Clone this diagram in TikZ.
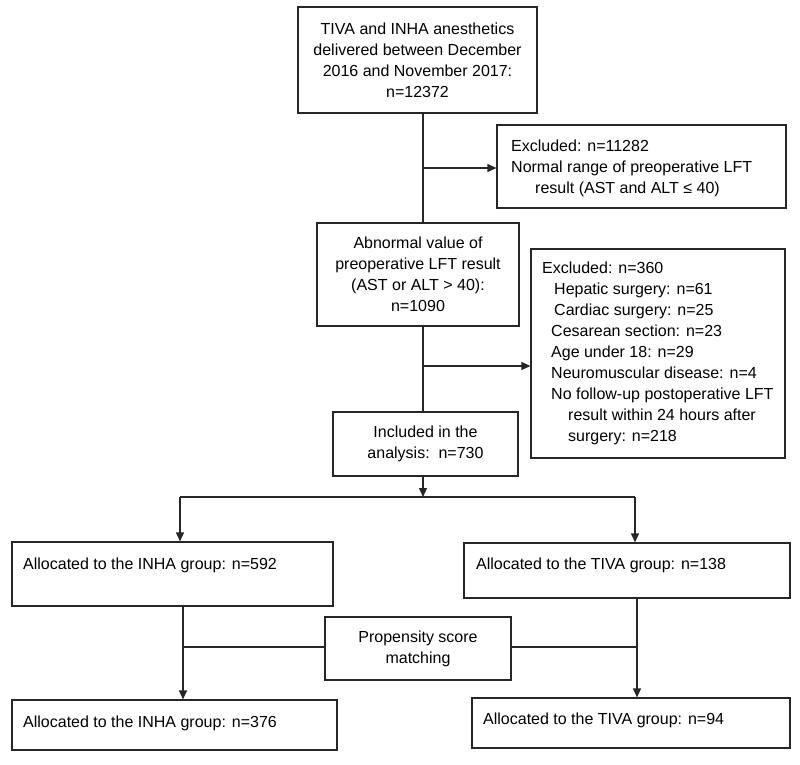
\documentclass[tikz,border=0pt]{standalone}
\usepackage{fontspec}
\setmainfont{Liberation Sans}
\usetikzlibrary{arrows.meta}
\begin{document}
\begin{tikzpicture}[x=1pt,y=-1pt,
  box/.style={draw=black!85, line width=1.2pt, rectangle, inner sep=0pt,
    font=\fontsize{16}{21}\selectfont, align=center},
  txt/.style={inner sep=0pt, font=\fontsize{16}{21}\selectfont, align=left},
  conn/.style={draw=black!85, line width=1.2pt},
  arr/.style={conn, -{Triangle[length=9pt,width=8pt]}}]
\useasboundingbox (0,0) rectangle (800,764);
% boxes
\node[box, minimum width=239pt, minimum height=106pt] (top) at (417.5,60)
  {TIVA and INHA anesthetics\\delivered between December\\2016 and November 2017:\\n=12372};
\node[box, minimum width=289pt, minimum height=83pt] (ex1) at (641.5,166.5) {};
\node[txt, anchor=west] (ex1t) at (511,168.5)
  {Excluded: n=11282\\Normal range of preoperative LFT\\\hspace*{24pt}result (AST and ALT ≤ 40)};
\node[box, minimum width=202pt, minimum height=103pt] (abn) at (418,274.5)
  {Abnormal value of\\preoperative LFT result\\(AST or ALT > 40):\\n=1090};
\node[box, minimum width=254pt, minimum height=209pt] (ex2) at (658,353.5) {};
\node[txt, anchor=west] (ex2t) at (542,353)
  {Excluded: n=360\\
   \hspace*{12pt}Hepatic surgery: n=61\\
   \hspace*{12pt}Cardiac surgery: n=25\\
   \hspace*{9pt}Cesarean section: n=23\\
   \hspace*{9pt}Age under 18: n=29\\
   \hspace*{9pt}Neuromuscular disease: n=4\\
   \hspace*{9pt}No follow-up postoperative LFT\\
   \hspace*{26pt}result within 24 hours after\\
   \hspace*{26pt}surgery: n=218};
\node[box, minimum width=185pt, minimum height=64pt] (inc) at (425.5,444)
  {Included in the\\analysis:\ \ n=730};
\node[box, minimum width=321pt, minimum height=64pt] (inha1) at (172.5,574) {};
\node[txt, anchor=base west] (inha1t) at (23,569) {Allocated to the INHA group: n=592};
\node[box, minimum width=326pt, minimum height=55pt] (tiva1) at (627,570.5) {};
\node[txt, anchor=base west] (tiva1t) at (476,569) {Allocated to the TIVA group: n=138};
\node[box, minimum width=186pt, minimum height=63pt] (prop) at (418,648.5)
  {Propensity score\\matching};
\node[box, minimum width=325pt, minimum height=50pt] (inha2) at (174.5,725) {};
\node[txt, anchor=base west] (inha2t) at (23,727) {Allocated to the INHA group: n=376};
\node[box, minimum width=318pt, minimum height=50pt] (tiva2) at (631,723) {};
\node[txt, anchor=base west] (tiva2t) at (483,724) {Allocated to the TIVA group: n=94};
% connectors
\coordinate (vx) at (423,0);
\draw[conn] (top.south -| vx) -- (abn.north -| vx);
\draw[conn] (abn.south -| vx) -- (inc.north -| vx);
\coordinate (b1) at (423,168);
\draw[arr] (b1) -- (b1 -| ex1.west);
\coordinate (b2) at (423,366);
\draw[arr] (b2) -- (b2 -| ex2.west);
\coordinate (sp) at (423,497);
\draw[arr] (inc.south -| sp) -- (sp);
\coordinate (sl) at (180,497);
\coordinate (sr) at (635,497);
\draw[conn] (sl) -- (sr);
\draw[arr] (sl) -- (sl |- inha1.north);
\draw[arr] (sr) -- (sr |- tiva1.north);
\coordinate (ll) at (183,647);
\coordinate (rr) at (637,647);
\draw[arr] (inha1.south -| ll) -- (inha2.north -| ll);
\draw[arr] (tiva1.south -| rr) -- (tiva2.north -| rr);
\draw[conn] (ll -| prop.west) -- (ll);
\draw[conn] (rr -| prop.east) -- (rr);
\end{tikzpicture}
\end{document}
